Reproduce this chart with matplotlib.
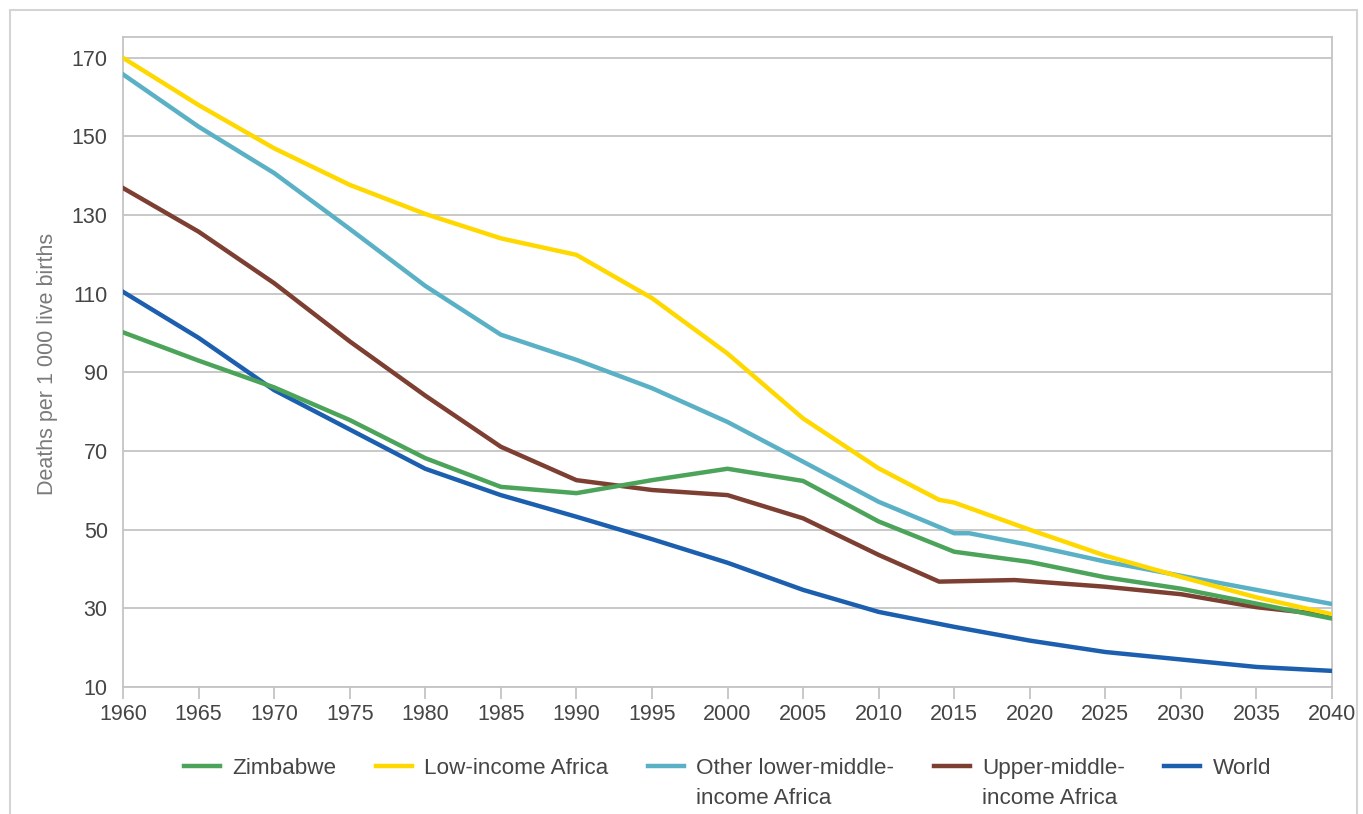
import matplotlib
matplotlib.use("Agg")
import matplotlib.pyplot as plt
from matplotlib.patches import Rectangle
from matplotlib.transforms import IdentityTransform

plt.rcParams['font.family'] = ['Liberation Sans', 'DejaVu Sans']

# --- DATA ---
years = [1960, 1965, 1970, 1975, 1980, 1985, 1990, 1995, 2000,
         2005, 2010, 2015, 2020, 2025, 2030, 2035, 2040]

zimbabwe = [100.2, 93.0, 86.2, 77.9, 68.2, 60.9, 59.3, 62.6, 65.5,
            62.4, 52.1, 44.4, 41.8, 37.9, 35.0, 31.2, 27.4]

low_income_years = [1960, 1965, 1970, 1975, 1980, 1985, 1990, 1995, 2000,
                    2005, 2010, 2014, 2015, 2020, 2025, 2030, 2035, 2040]
low_income = [170.0, 158.0, 147.0, 137.7, 130.3, 124.1, 119.9, 108.9, 94.8,
              78.3, 65.6, 57.6, 56.9, 50.0, 43.4, 38.0, 32.8, 28.5]

lower_middle_years = [1960, 1965, 1970, 1975, 1980, 1985, 1990, 1995, 2000,
                      2005, 2010, 2015, 2016, 2020, 2025, 2030, 2035, 2040]
lower_middle = [165.8, 152.5, 140.7, 126.5, 112.0, 99.6, 93.2, 86.0, 77.4,
                67.3, 57.1, 49.1, 49.1, 46.1, 41.9, 38.3, 34.7, 31.1]

upper_middle_years = [1960, 1965, 1970, 1975, 1980, 1985, 1990, 1995, 2000,
                      2005, 2010, 2014, 2019, 2025, 2030, 2035, 2040]
upper_middle = [136.9, 125.8, 112.7, 97.9, 84.1, 71.1, 62.6, 60.1, 58.8,
                52.9, 43.6, 36.8, 37.2, 35.5, 33.6, 30.3, 28.2]

world = [110.5, 98.8, 85.5, 75.5, 65.5, 58.8, 53.3, 47.6, 41.6,
         34.7, 29.1, 25.3, 21.8, 18.9, 17.0, 15.1, 14.1]

labels = ["Zimbabwe", "Low-income Africa", "Other lower-middle-\nincome Africa",
          "Upper-middle-\nincome Africa", "World"]
colors = ["#4ca35a", "#ffd800", "#5ab1c6", "#7e3f33", "#1c5fae"]

x_ticks = list(range(1960, 2041, 5))
y_ticks = list(range(10, 171, 20))

series = [
    (years, zimbabwe),
    (low_income_years, low_income),
    (lower_middle_years, lower_middle),
    (upper_middle_years, upper_middle),
    (years, world),
]

text_color = '#454545'
grid_color = '#c4c4c4'
fs = 15.5
leg_fs = 16.2

fig = plt.figure(figsize=(13.63, 8.14), dpi=100)
ax = fig.add_axes([123 / 1363, 1 - 687 / 814, (1332 - 123) / 1363, (687 - 37) / 814])

handles = []
for i, ((xs, ys), lab, col) in enumerate(zip(series, labels, colors)):
    # later legend entries sit underneath (Zimbabwe on top)
    h, = ax.plot(xs, ys, color=col, lw=3.2, solid_joinstyle='round',
                 zorder=10 - i, label=lab)
    handles.append(h)

ax.set_xlim(1960, 2040)
ax.set_ylim(10, 175.3)
ax.set_xticks(x_ticks)
ax.set_yticks(y_ticks)

ax.yaxis.grid(True, color=grid_color, lw=1.3)
ax.set_axisbelow(True)
for sp in ax.spines.values():
    sp.set_color(grid_color)
    sp.set_linewidth(1.3)

ax.tick_params(axis='x', length=8.6, width=1.3, color=grid_color, pad=4,
               labelsize=fs, labelcolor=text_color)
ax.tick_params(axis='y', length=0, pad=11, labelsize=fs, labelcolor=text_color)

ax.set_ylabel('Deaths per 1 000 live births', fontsize=fs, color='#7a7a7a')
ax.yaxis.set_label_coords(-0.054, 0.497)

# Legend: first lines only, second lines added below afterwards (handle sits on line 1)
first_lines = [l.split('\n')[0] for l in labels]
leg = ax.legend(handles, first_lines, loc='center', bbox_to_anchor=(0.5, -0.125),
                ncol=5, frameon=False, fontsize=leg_fs, handlelength=1.6,
                handletextpad=0.55, columnspacing=1.75, borderpad=0)
for t in leg.get_texts():
    t.set_color(text_color)

# outer frame of the figure panel
fig.add_artist(Rectangle((10 / 1363, -0.05), (1357 - 10) / 1363, 1 - 10 / 814 + 0.05,
                         transform=fig.transFigure, fill=False,
                         edgecolor='#d4d4d4', lw=1.5))

fig.canvas.draw()
for t, lab in zip(leg.get_texts(), labels):
    parts = lab.split('\n')
    if len(parts) > 1:
        bb = t.get_window_extent()
        fig.text(bb.x0, bb.y1 - 30, parts[1], transform=IdentityTransform(),
                 ha='left', va='top', fontsize=leg_fs, color=text_color)

fig.savefig('out.png', dpi=100)
